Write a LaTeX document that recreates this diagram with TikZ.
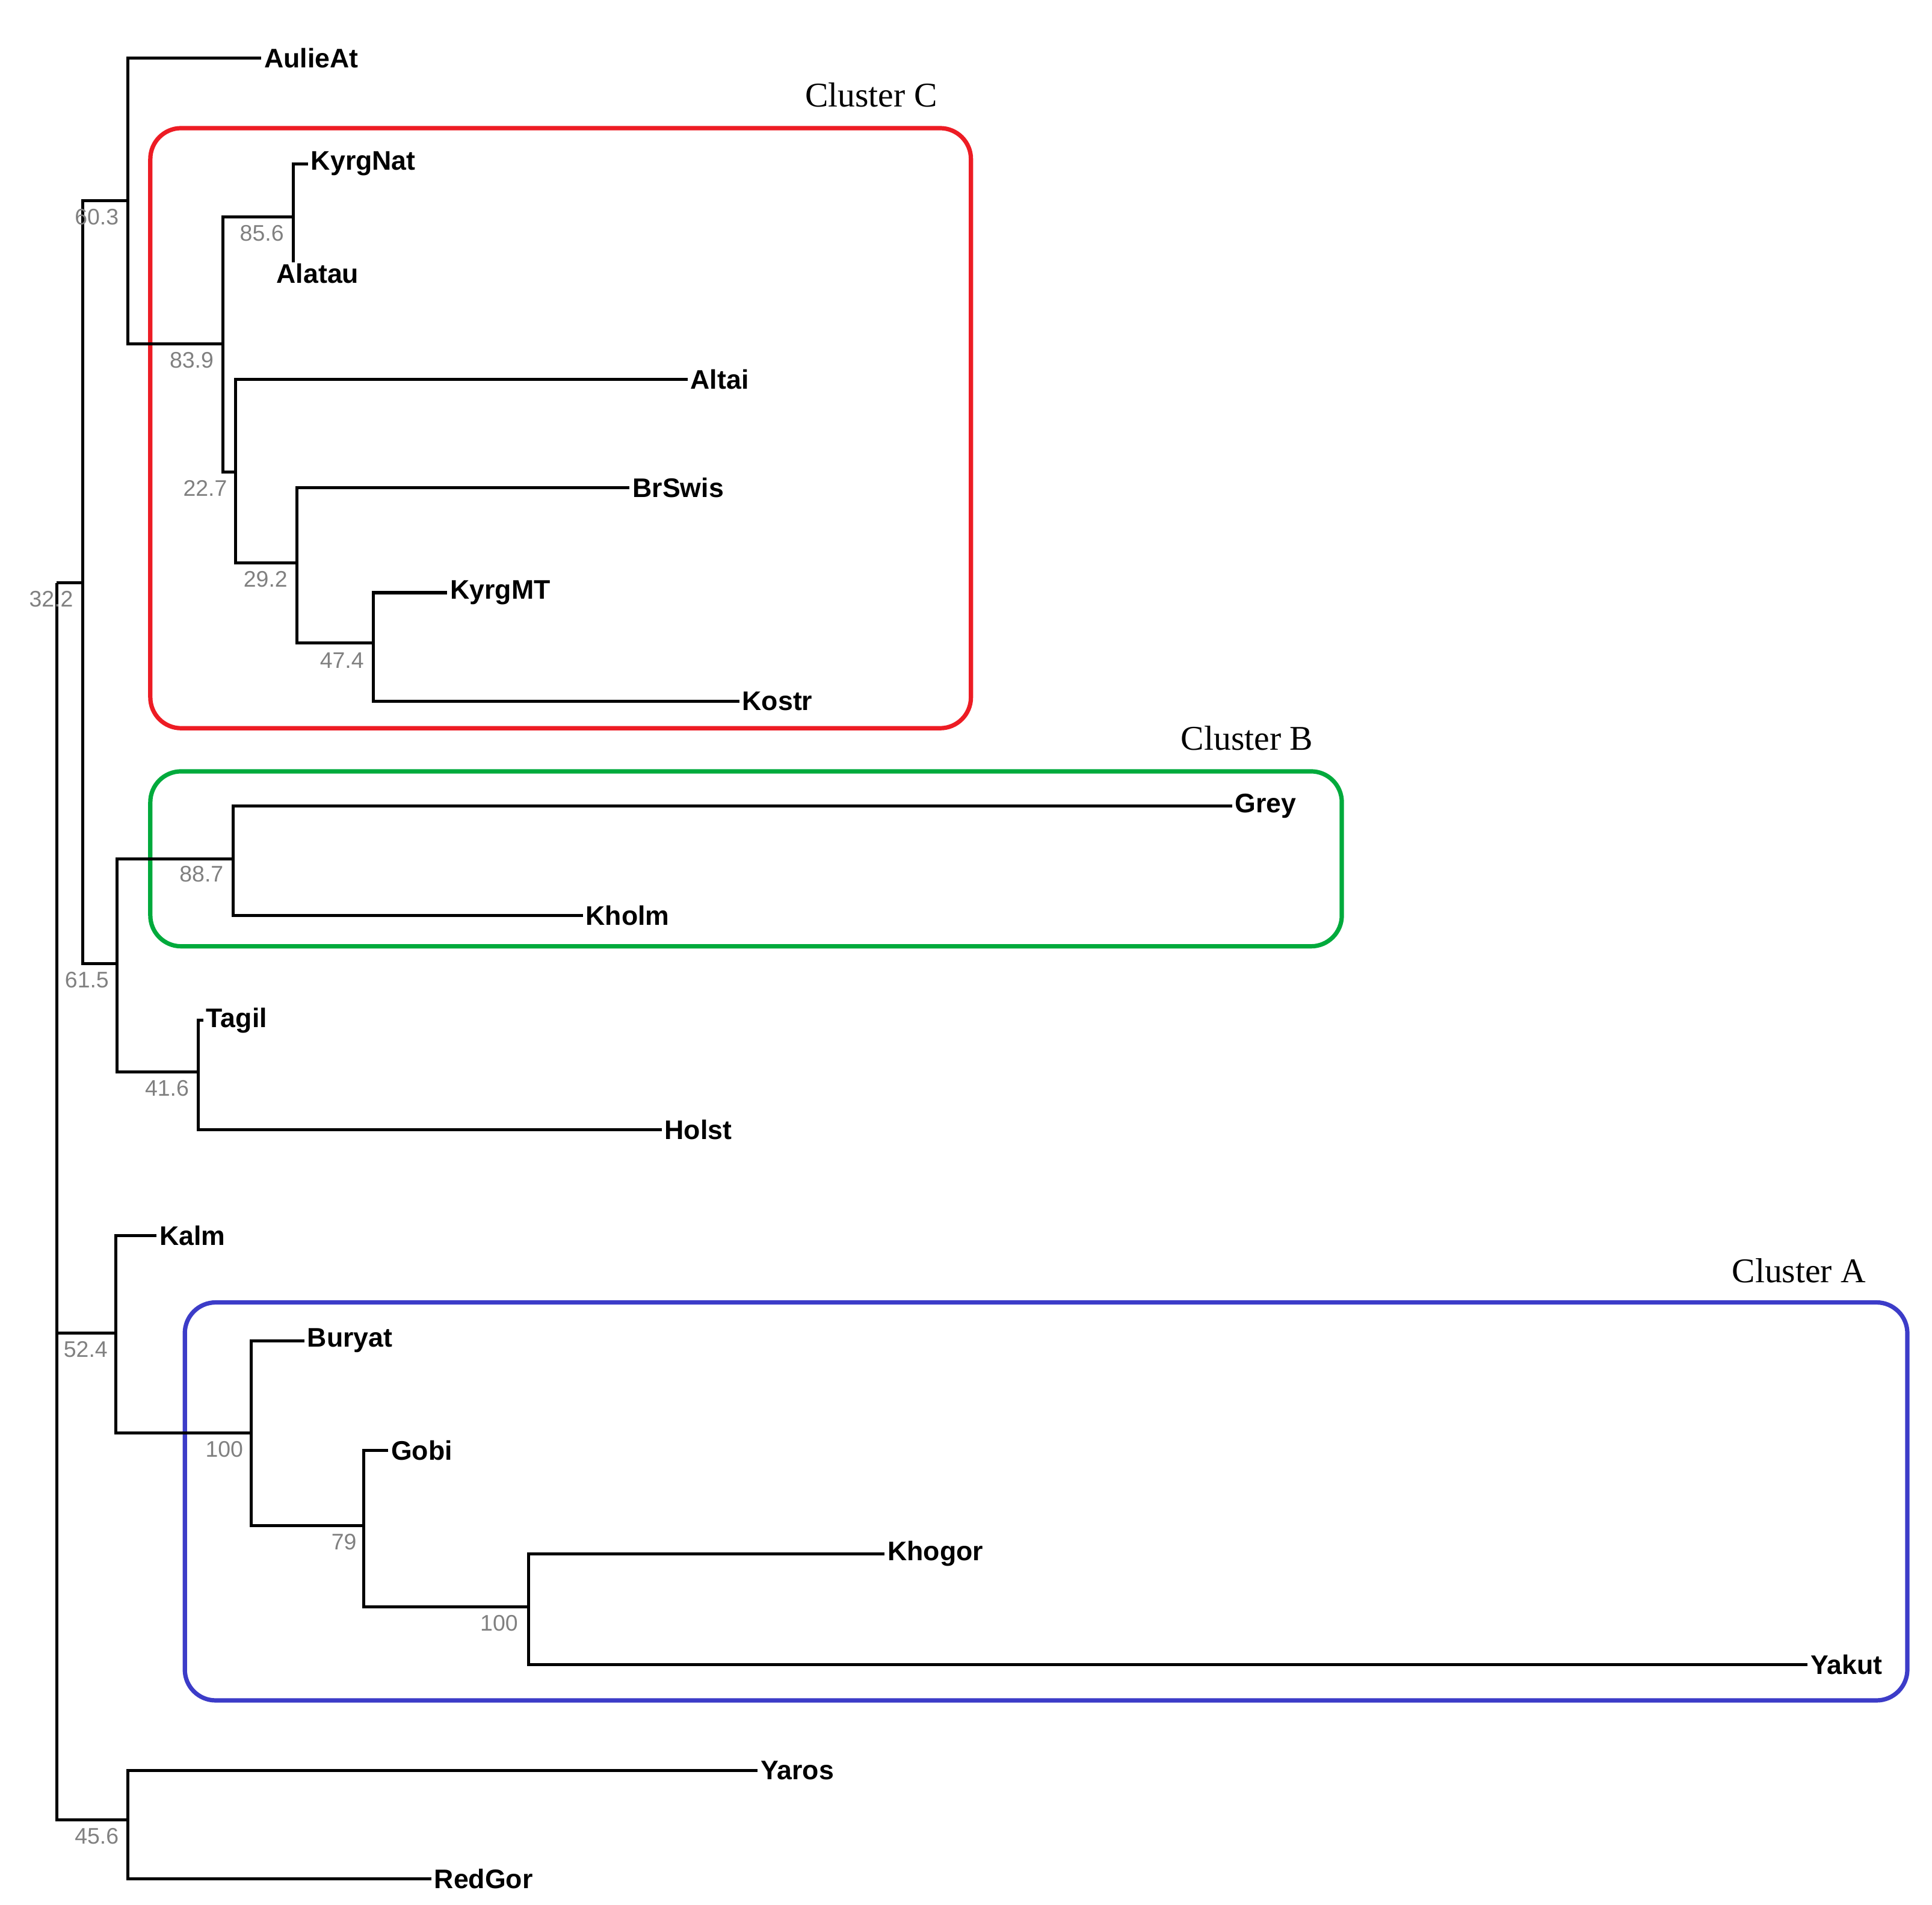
\documentclass[tikz,border=0pt]{standalone}
\usepackage{fontspec}
\setmainfont{Liberation Serif}
\newfontfamily\lsans{Liberation Sans}
\begin{document}
\begin{tikzpicture}[x=0.01cm,y=-0.01cm,
  br/.style={line width=0.7pt},
  leaf/.style={anchor=west,inner sep=0.5pt,font=\lsans\bfseries\fontsize{6.2}{7}\selectfont},
  bs/.style={anchor=north east,inner sep=0pt,text=gray,font=\lsans\fontsize{5.2}{6}\selectfont},
  box/.style={line width=1pt,rounded corners=0.25cm},
  cl/.style={font=\fontsize{8}{9}\selectfont,inner sep=0pt}]
\useasboundingbox (0,0) rectangle (1568,1546);
% boxes
\draw[box,draw={rgb,255:red,237;green,28;blue,36}] (122,104) rectangle (788,591);
\draw[box,draw={rgb,255:red,0;green,170;blue,60}] (122,626) rectangle (1089,768);
\draw[box,draw={rgb,255:red,60;green,60;blue,200}] (150,1057) rectangle (1548,1380);
\node[cl] (cC) at (707,77) {Cluster C};
\node[cl] (cB) at (1012,599) {Cluster B};
\node[cl] (cA) at (1460,1031) {Cluster A};
% internal nodes
\coordinate (r) at (46,473);
\coordinate (n1) at (67,473);
\coordinate (n2) at (104,163);
\coordinate (n3) at (181,279);
\coordinate (n4) at (238,176);
\coordinate (n5) at (191,383);
\coordinate (n6) at (241,457);
\coordinate (n7) at (303,522);
\coordinate (n8) at (95,782);
\coordinate (n9) at (189,697);
\coordinate (n10) at (161,870);
\coordinate (n11) at (94,1082);
\coordinate (n12) at (204,1163);
\coordinate (n13) at (295,1238);
\coordinate (n14) at (429,1304);
\coordinate (n15) at (104,1477);
% leaves
\node[leaf] (AulieAt) at (212,47) {AulieAt};
\node[leaf] (KyrgNat) at (250,133) {KyrgNat};
\node[leaf] (Alatau) at (222,222) {Alatau};
\coordinate (AlatauE) at (238,213);
\node[leaf] (Altai) at (558,308) {Altai};
\node[leaf] (BrSwis) at (511,396) {BrSwis};
\node[leaf] (KyrgMT) at (363,481) {KyrgMT};
\node[leaf] (Kostr) at (600,569) {Kostr};
\node[leaf] (Grey) at (1000,654) {Grey};
\node[leaf] (Kholm) at (473,743) {Kholm};
\node[leaf] (Tagil) at (165,828) {Tagil};
\node[leaf] (Holst) at (537,917) {Holst};
\node[leaf] (Kalm) at (127,1003) {Kalm};
\node[leaf] (Buryat) at (247,1088) {Buryat};
\node[leaf] (Gobi) at (315,1177) {Gobi};
\node[leaf] (Khogor) at (718,1261) {Khogor};
\node[leaf] (Yakut) at (1467,1351) {Yakut};
\node[leaf] (Yaros) at (615,1437) {Yaros};
\node[leaf] (RedGor) at (350,1525) {RedGor};
% branches
\draw[br] (46,473) |- (n1); \draw[br] (46,473) |- (n11); \draw[br] (46,473) |- (n15);
\draw[br] (n1) |- (n2); \draw[br] (n1) |- (n8);
\draw[br] (n2) |- (AulieAt.west); \draw[br] (n2) |- (n3);
\draw[br] (n3) |- (n4); \draw[br] (n3) |- (n5);
\draw[br] (n4) |- (KyrgNat.west); \draw[br] (n4) -- (AlatauE);
\draw[br] (n5) |- (Altai.west); \draw[br] (n5) |- (n6);
\draw[br] (n6) |- (BrSwis.west); \draw[br] (n6) |- (n7);
\draw[br] (n7) |- (KyrgMT.west); \draw[br] (n7) |- (Kostr.west);
\draw[br] (n8) |- (n9); \draw[br] (n8) |- (n10);
\draw[br] (n9) |- (Grey.west); \draw[br] (n9) |- (Kholm.west);
\draw[br] (n10) |- (Tagil.west); \draw[br] (n10) |- (Holst.west);
\draw[br] (n11) |- (Kalm.west); \draw[br] (n11) |- (n12);
\draw[br] (n12) |- (Buryat.west); \draw[br] (n12) |- (n13);
\draw[br] (n13) |- (Gobi.west); \draw[br] (n13) |- (n14);
\draw[br] (n14) |- (Khogor.west); \draw[br] (n14) |- (Yakut.west);
\draw[br] (n15) |- (Yaros.west); \draw[br] (n15) |- (RedGor.west);
% bootstrap values
\node[bs] (b1) at (60,479) {32.2};
\node[bs] (b2) at (97,169) {60.3};
\node[bs] (b3) at (174,285) {83.9};
\node[bs] (b4) at (231,182) {85.6};
\node[bs] (b5) at (185,389) {22.7};
\node[bs] (b6) at (234,463) {29.2};
\node[bs] (b7) at (296,529) {47.4};
\node[bs] (b8) at (89,788) {61.5};
\node[bs] (b9) at (182,702) {88.7};
\node[bs] (b10) at (154,876) {41.6};
\node[bs] (b11) at (88,1088) {52.4};
\node[bs] (b12) at (198,1169) {100};
\node[bs] (b13) at (290,1244) {79};
\node[bs] (b14) at (421,1310) {100};
\node[bs] (b15) at (97,1483) {45.6};
\end{tikzpicture}
\end{document}
